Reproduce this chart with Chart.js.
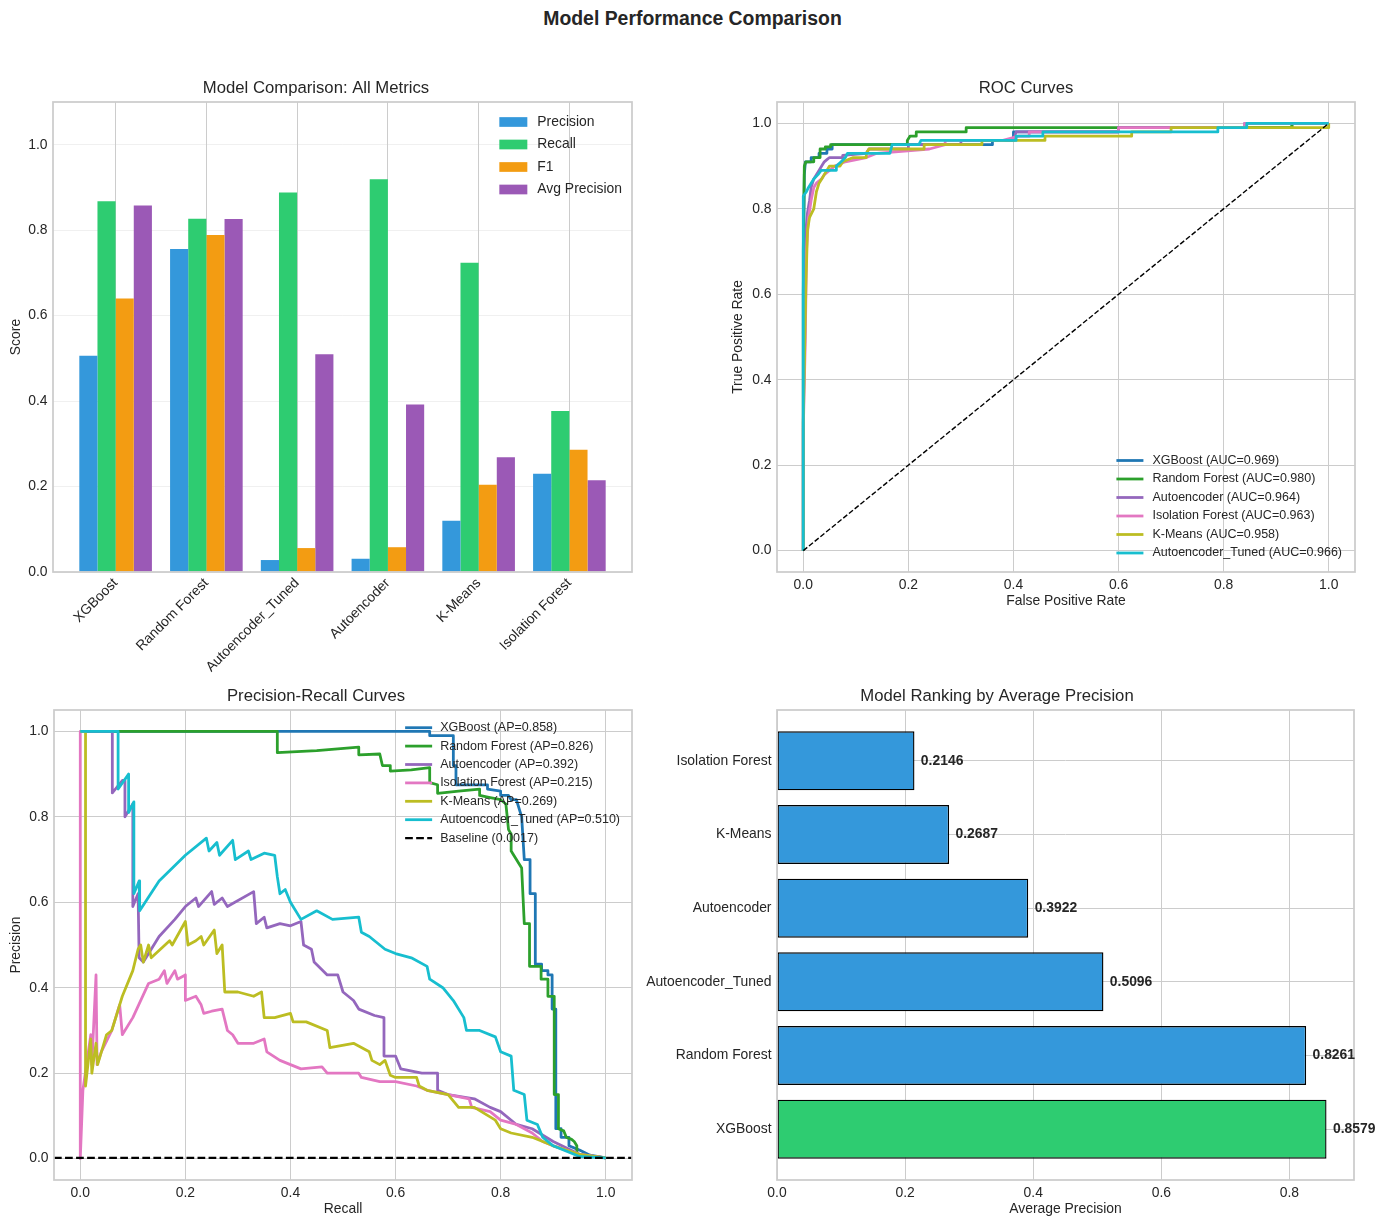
<!DOCTYPE html>
<html>
<head>
<meta charset="utf-8">
<title>Model Performance Comparison</title>
<script src="https://cdn.jsdelivr.net/npm/chart.js@4.4.1/dist/chart.umd.min.js"></script>
<style>
  body { margin: 0; background: #fff; }
  #page { position: relative; width: 1385px; height: 1229px; overflow: hidden; background: #fff; }
  #suptitle { position: absolute; left: 0; top: 7px; width: 1385px; text-align: center;
              font: bold 19.4px "Liberation Sans", Arial, sans-serif; color: #262626; line-height: 22px; }
  canvas { position: absolute; }
</style>
</head>
<body>
<div id="page">
  <div id="suptitle">Model Performance Comparison</div>
  <canvas id="metricsChart"></canvas>
  <canvas id="rocChart"></canvas>
  <canvas id="prChart"></canvas>
  <canvas id="rankChart"></canvas>
</div>
<script>
// ---- data ----
var modelNames = ['XGBoost', 'Random Forest', 'Autoencoder_Tuned', 'Autoencoder', 'K-Means', 'Isolation Forest'];
var precisionScores = [0.506, 0.756, 0.028, 0.031, 0.120, 0.230];
var recallScores = [0.868, 0.827, 0.888, 0.919, 0.724, 0.377];
var f1Scores = [0.640, 0.789, 0.056, 0.058, 0.204, 0.286];
var avgPrecisionScores = [0.8579, 0.8261, 0.5096, 0.3922, 0.2687, 0.2146];
var scoreTicks = [0, 0.2, 0.4, 0.6, 0.8, 1.0];
var rateTicks = [0, 0.2, 0.4, 0.6, 0.8, 1.0];
var apTicks = [0, 0.2, 0.4, 0.6, 0.8];

var curveModels = ['XGBoost', 'Random Forest', 'Autoencoder', 'Isolation Forest', 'K-Means', 'Autoencoder_Tuned'];
var rocAuc = [0.969, 0.980, 0.964, 0.963, 0.958, 0.966];
var prAp = [0.858, 0.826, 0.392, 0.215, 0.269, 0.510];
var baselineRate = 0.0017;

// ROC points [fpr, tpr]
var rocXGBoost = [[0,0],[0,0.6],[0.002,0.88],[0.004,0.91],[0.015,0.91],[0.015,0.92],[0.03,0.92],[0.03,0.93],[0.045,0.93],[0.045,0.94],[0.055,0.94],[0.055,0.95],[0.36,0.95],[0.36,0.96],[0.4,0.96],[0.4,0.98],[0.6,0.98],[0.6,0.99],[0.93,0.99],[0.93,1],[1,1]];
var rocRandomForest = [[0,0],[0,0.7],[0.002,0.9],[0.005,0.91],[0.02,0.91],[0.02,0.92],[0.032,0.92],[0.032,0.94],[0.042,0.94],[0.042,0.945],[0.052,0.945],[0.052,0.95],[0.198,0.95],[0.198,0.96],[0.203,0.97],[0.215,0.97],[0.215,0.98],[0.31,0.98],[0.31,0.99],[0.93,0.99],[0.93,1],[1,1]];
var rocAutoencoder = [[0,0],[0,0.3],[0.003,0.6],[0.005,0.75],[0.008,0.79],[0.012,0.82],[0.015,0.85],[0.02,0.87],[0.025,0.88],[0.03,0.89],[0.035,0.9],[0.04,0.91],[0.045,0.915],[0.05,0.92],[0.075,0.92],[0.075,0.925],[0.12,0.93],[0.125,0.94],[0.2,0.94],[0.2,0.95],[0.3,0.95],[0.3,0.96],[0.4,0.96],[0.405,0.98],[0.6,0.98],[0.6,0.99],[0.84,0.99],[0.84,1],[1,1]];
var rocIsolationForest = [[0,0],[0,0.28],[0.004,0.5],[0.006,0.7],[0.01,0.78],[0.015,0.82],[0.02,0.85],[0.025,0.86],[0.035,0.87],[0.04,0.88],[0.05,0.89],[0.06,0.9],[0.08,0.91],[0.12,0.92],[0.14,0.93],[0.24,0.94],[0.27,0.95],[0.27,0.96],[0.38,0.96],[0.41,0.97],[0.43,0.97],[0.43,0.98],[0.6,0.98],[0.6,0.99],[0.84,0.99],[0.84,1],[1,1]];
var rocKMeans = [[0,0],[0,0.3],[0.005,0.62],[0.008,0.75],[0.012,0.78],[0.02,0.8],[0.025,0.84],[0.03,0.86],[0.035,0.87],[0.04,0.88],[0.05,0.9],[0.07,0.9],[0.075,0.91],[0.095,0.92],[0.12,0.92],[0.12,0.93],[0.125,0.94],[0.23,0.94],[0.23,0.95],[0.34,0.95],[0.34,0.96],[0.37,0.96],[0.46,0.96],[0.46,0.97],[0.625,0.97],[0.625,0.98],[0.7,0.98],[0.7,0.99],[1,0.99],[1,1]];
var rocAutoencoderTuned = [[0,0],[0,0.83],[0.006,0.84],[0.01,0.85],[0.015,0.86],[0.02,0.87],[0.028,0.88],[0.034,0.89],[0.063,0.89],[0.063,0.9],[0.072,0.91],[0.08,0.92],[0.084,0.93],[0.165,0.93],[0.169,0.95],[0.22,0.95],[0.224,0.96],[0.405,0.96],[0.405,0.97],[0.456,0.97],[0.456,0.98],[0.789,0.98],[0.789,0.99],[0.844,0.99],[0.844,1],[1,1]];
var chanceLine = [[0,0],[1,1]];

// precision-recall points [recall, precision]
var prXGBoost = [[0,1],[0.665,1],[0.665,0.99],[0.71,0.99],[0.71,0.92],[0.715,0.92],[0.715,0.875],[0.775,0.875],[0.775,0.865],[0.80,0.86],[0.80,0.85],[0.815,0.85],[0.82,0.84],[0.83,0.84],[0.84,0.80],[0.845,0.70],[0.856,0.70],[0.856,0.62],[0.866,0.62],[0.866,0.455],[0.878,0.455],[0.878,0.44],[0.89,0.44],[0.89,0.43],[0.898,0.43],[0.898,0.35],[0.905,0.35],[0.905,0.07],[0.915,0.07],[0.915,0.05],[0.93,0.05],[0.93,0.03],[0.95,0.02],[0.97,0.008],[1,0.0017]];
var prRandomForest = [[0,1],[0.375,1],[0.375,0.95],[0.45,0.955],[0.53,0.963],[0.53,0.945],[0.57,0.947],[0.575,0.92],[0.59,0.92],[0.59,0.907],[0.63,0.91],[0.665,0.915],[0.665,0.88],[0.68,0.875],[0.68,0.855],[0.72,0.86],[0.76,0.865],[0.76,0.85],[0.78,0.845],[0.80,0.84],[0.81,0.83],[0.815,0.77],[0.82,0.76],[0.82,0.72],[0.83,0.70],[0.84,0.68],[0.845,0.55],[0.855,0.55],[0.855,0.45],[0.877,0.45],[0.877,0.42],[0.89,0.42],[0.89,0.38],[0.902,0.38],[0.902,0.15],[0.91,0.15],[0.91,0.07],[0.92,0.065],[0.925,0.05],[0.935,0.045],[0.94,0.04],[0.945,0.03],[0.945,0.01],[0.97,0.006],[1,0.0017]];
var prAutoencoder = [[0,1],[0.061,1],[0.061,0.856],[0.08,0.885],[0.085,0.885],[0.085,0.80],[0.1,0.83],[0.1,0.59],[0.11,0.62],[0.112,0.47],[0.12,0.46],[0.15,0.52],[0.18,0.56],[0.2,0.59],[0.22,0.61],[0.225,0.59],[0.25,0.625],[0.255,0.595],[0.27,0.61],[0.28,0.59],[0.33,0.625],[0.335,0.55],[0.35,0.565],[0.355,0.54],[0.38,0.55],[0.4,0.545],[0.42,0.555],[0.425,0.50],[0.44,0.49],[0.445,0.46],[0.47,0.43],[0.49,0.43],[0.5,0.39],[0.52,0.37],[0.53,0.35],[0.56,0.335],[0.578,0.33],[0.578,0.24],[0.6,0.24],[0.61,0.21],[0.65,0.2],[0.68,0.2],[0.68,0.16],[0.7,0.15],[0.75,0.14],[0.78,0.12],[0.8,0.11],[0.83,0.08],[0.86,0.07],[0.9,0.04],[0.95,0.01],[1,0.0017]];
var prIsolationForest = [[0,1],[0,0],[0.005,0.16],[0.02,0.29],[0.022,0.22],[0.03,0.43],[0.032,0.22],[0.04,0.25],[0.06,0.3],[0.075,0.36],[0.08,0.29],[0.1,0.33],[0.13,0.41],[0.15,0.42],[0.16,0.44],[0.165,0.41],[0.18,0.44],[0.185,0.42],[0.2,0.43],[0.2,0.37],[0.22,0.38],[0.23,0.36],[0.235,0.34],[0.25,0.345],[0.27,0.35],[0.28,0.3],[0.29,0.29],[0.3,0.27],[0.33,0.27],[0.35,0.28],[0.355,0.25],[0.38,0.23],[0.4,0.22],[0.42,0.21],[0.46,0.215],[0.47,0.2],[0.5,0.2],[0.53,0.2],[0.535,0.19],[0.57,0.18],[0.6,0.18],[0.64,0.17],[0.66,0.16],[0.7,0.15],[0.74,0.14],[0.745,0.12],[0.78,0.11],[0.8,0.09],[0.83,0.08],[0.86,0.06],[0.88,0.04],[0.9,0.03],[0.95,0.01],[1,0.0017]];
var prKMeans = [[0,1],[0.01,1],[0.01,0.17],[0.02,0.28],[0.022,0.2],[0.03,0.27],[0.033,0.22],[0.05,0.29],[0.06,0.3],[0.08,0.38],[0.1,0.44],[0.11,0.49],[0.115,0.5],[0.12,0.46],[0.13,0.5],[0.135,0.47],[0.17,0.51],[0.175,0.5],[0.2,0.555],[0.205,0.5],[0.22,0.51],[0.23,0.52],[0.235,0.5],[0.255,0.535],[0.26,0.48],[0.27,0.5],[0.275,0.39],[0.3,0.39],[0.33,0.38],[0.345,0.39],[0.35,0.33],[0.37,0.33],[0.4,0.34],[0.405,0.32],[0.43,0.32],[0.47,0.3],[0.475,0.26],[0.52,0.27],[0.55,0.25],[0.555,0.23],[0.57,0.22],[0.58,0.23],[0.59,0.195],[0.6,0.19],[0.64,0.19],[0.645,0.17],[0.66,0.16],[0.7,0.15],[0.72,0.12],[0.75,0.12],[0.79,0.09],[0.8,0.07],[0.82,0.06],[0.86,0.05],[0.9,0.03],[0.95,0.01],[1,0.0017]];
var prAutoencoderTuned = [[0,1],[0.072,1],[0.072,0.865],[0.092,0.9],[0.092,0.81],[0.102,0.835],[0.102,0.62],[0.112,0.65],[0.113,0.58],[0.15,0.65],[0.2,0.71],[0.24,0.75],[0.245,0.72],[0.26,0.74],[0.265,0.71],[0.29,0.745],[0.295,0.70],[0.32,0.72],[0.325,0.70],[0.35,0.715],[0.37,0.71],[0.375,0.66],[0.38,0.62],[0.39,0.63],[0.4,0.60],[0.42,0.56],[0.45,0.58],[0.48,0.56],[0.53,0.565],[0.535,0.53],[0.55,0.52],[0.58,0.49],[0.6,0.48],[0.63,0.47],[0.66,0.45],[0.665,0.42],[0.69,0.40],[0.71,0.37],[0.73,0.33],[0.735,0.30],[0.76,0.30],[0.79,0.285],[0.8,0.25],[0.82,0.24],[0.825,0.16],[0.845,0.15],[0.85,0.09],[0.87,0.08],[0.88,0.05],[0.9,0.03],[0.95,0.005],[1,0.0017]];

var rankNames = ['XGBoost', 'Random Forest', 'Autoencoder_Tuned', 'Autoencoder', 'K-Means', 'Isolation Forest'];
var rankValues = [0.8579, 0.8261, 0.5096, 0.3922, 0.2687, 0.2146];

// ---- style ----
var FONT = '"Liberation Sans", Arial, sans-serif';
var TEXT = '#262626';
var GRID = '#cccccc';
var PT = 100 / 72; // matplotlib points -> px at dpi 100
var curveColors = ['#1f77b4', '#2ca02c', '#9467bd', '#e377c2', '#bcbd22', '#17becf'];

Chart.defaults.font.family = FONT;
Chart.defaults.font.size = 13.9;
Chart.defaults.color = TEXT;
Chart.defaults.animation = false;

// full box around the plot area, like matplotlib spines
var axesFrame = {
    id: 'axesFrame',
    afterDatasetsDraw: function(chart) {
        var a = chart.chartArea, ctx = chart.ctx;
        ctx.save();
        ctx.strokeStyle = GRID;
        ctx.lineWidth = 1.25 * PT;
        ctx.strokeRect(a.left, a.top, a.right - a.left, a.bottom - a.top);
        ctx.restore();
    }
};

// legend drawn inside the plot area (no frame)
var innerLegend = {
    id: 'innerLegend',
    afterDatasetsDraw: function(chart, args, opts) {
        var a = chart.chartArea, ctx = chart.ctx;
        var items = chart.data.datasets.filter(function(d) { return d.label; });
        ctx.save();
        ctx.font = opts.fontSize + 'px ' + FONT;
        var textW = 0;
        items.forEach(function(d) { textW = Math.max(textW, ctx.measureText(d.label).width); });
        var left = a.right - opts.marginRight - textW - opts.handleLength - opts.handlePad;
        var first = opts.anchor === 'top'
            ? a.top + opts.firstRow
            : a.bottom - opts.firstRow - (items.length - 1) * opts.rowHeight;
        items.forEach(function(d, i) {
            var y = first + i * opts.rowHeight;
            if (opts.marker === 'box') {
                ctx.fillStyle = d.backgroundColor;
                ctx.fillRect(left, y - opts.boxHeight / 2, opts.handleLength, opts.boxHeight);
            } else {
                ctx.strokeStyle = d.borderColor;
                ctx.lineWidth = d.borderWidth;
                ctx.setLineDash(d.borderDash || []);
                ctx.beginPath();
                ctx.moveTo(left, y);
                ctx.lineTo(left + opts.handleLength, y);
                ctx.stroke();
                ctx.setLineDash([]);
            }
            ctx.fillStyle = TEXT;
            ctx.textAlign = 'left';
            ctx.textBaseline = 'middle';
            ctx.fillText(d.label, left + opts.handleLength + opts.handlePad, y);
        });
        ctx.restore();
    }
};

// value text to the right of each horizontal bar
var barValueLabels = {
    id: 'barValueLabels',
    afterDatasetsDraw: function(chart, args, opts) {
        var meta = chart.getDatasetMeta(0), ctx = chart.ctx, xs = chart.scales.x;
        var points = chart.data.datasets[0].data;
        ctx.save();
        ctx.font = 'bold 13.9px ' + FONT;
        ctx.fillStyle = TEXT;
        ctx.textAlign = 'left';
        ctx.textBaseline = 'middle';
        meta.data.forEach(function(bar, i) {
            var v = points[i].x;
            ctx.fillText(v.toFixed(4), xs.getPixelForValue(v + opts.offset), bar.y);
        });
        ctx.restore();
    }
};

function placeCanvas(id, box) {
    var c = document.getElementById(id);
    c.width = box.w;
    c.height = box.h;
    c.style.left = box.x + 'px';
    c.style.top = box.y + 'px';
    c.style.width = box.w + 'px';
    c.style.height = box.h + 'px';
    return c;
}

function fixedTicks(values) {
    return function(scale) {
        scale.ticks = values.map(function(v) { return {value: v}; });
    };
}

function toPoints(pairs) {
    return pairs.map(function(p) { return {x: p[0], y: p[1]}; });
}

function plotTitle(text) {
    return {
        display: true, text: text, color: TEXT,
        font: {size: 16.7, weight: 'normal'},
        padding: {top: 17.96, bottom: 4}
    };
}

function fmt1(v) { return Number(v).toFixed(1); }

// ---- 1: grouped bars ----
var metricsBox = {x: 0, y: 60, w: 660, h: 630};
new Chart(placeCanvas('metricsChart', metricsBox), {
    type: 'bar',
    data: {
        datasets: [
            {label: 'Precision', data: precisionScores, backgroundColor: '#3498db'},
            {label: 'Recall', data: recallScores, backgroundColor: '#2ecc71'},
            {label: 'F1', data: f1Scores, backgroundColor: '#f39c12'},
            {label: 'Avg Precision', data: avgPrecisionScores, backgroundColor: '#9b59b6'}
        ].map(function(ds) {
            ds.data = ds.data.map(function(v, i) { return {x: i, y: v}; });
            ds.borderWidth = 0;
            ds.categoryPercentage = 0.8;
            ds.barPercentage = 1.0;
            return ds;
        })
    },
    options: {
        responsive: false,
        layout: {padding: {left: 0, top: 0, right: 28, bottom: 0}},
        plugins: {
            legend: {display: false},
            tooltip: {enabled: false},
            title: plotTitle('Model Comparison: All Metrics'),
            innerLegend: {anchor: 'top', marker: 'box', fontSize: 13.9, rowHeight: 22.5, firstRow: 20,
                          marginRight: 10, handleLength: 28, handlePad: 10, boxHeight: 9.7}
        },
        scales: {
            x: {
                type: 'linear', min: -0.69, max: 5.69, offset: false,
                afterBuildTicks: fixedTicks(modelNames.map(function(_, i) { return i; })),
                ticks: {
                    autoSkip: false, minRotation: 45, maxRotation: 45, padding: 3,
                    callback: function(v) { return modelNames[v]; }
                },
                grid: {color: GRID, lineWidth: 1, drawTicks: false, offset: false},
                border: {display: false},
                afterFit: function(s) { s.height = 118; }
            },
            y: {
                min: 0, max: 1.1,
                afterBuildTicks: fixedTicks(scoreTicks),
                ticks: {padding: 5.5, callback: fmt1},
                grid: {color: 'rgba(204,204,204,0.3)', lineWidth: 1, drawTicks: false},
                border: {display: false},
                title: {display: true, text: 'Score', padding: {top: 7.7, bottom: 0}},
                afterFit: function(s) { s.width = 53; }
            }
        }
    },
    plugins: [axesFrame, innerLegend]
});

// ---- 2: ROC curves ----
var rocSeries = [rocXGBoost, rocRandomForest, rocAutoencoder, rocIsolationForest, rocKMeans, rocAutoencoderTuned];
var rocDatasets = rocSeries.map(function(pts, i) {
    return {
        label: curveModels[i] + ' (AUC=' + rocAuc[i].toFixed(3) + ')',
        data: toPoints(pts), borderColor: curveColors[i], backgroundColor: curveColors[i],
        borderWidth: 2 * PT, order: rocSeries.length + 1 - i
    };
});
rocDatasets.push({data: toPoints(chanceLine), borderColor: '#000000', borderWidth: 1 * PT,
                  borderDash: [3.7 * PT, 1.6 * PT], order: 0});

var rocBox = {x: 697, y: 60, w: 683, h: 562};
new Chart(placeCanvas('rocChart', rocBox), {
    type: 'line',
    data: {datasets: rocDatasets},
    options: {
        responsive: false,
        layout: {padding: {left: 0, top: 0, right: 25, bottom: 0}},
        elements: {point: {radius: 0}, line: {tension: 0, fill: false, borderJoinStyle: 'round'}},
        plugins: {
            legend: {display: false},
            tooltip: {enabled: false},
            title: plotTitle('ROC Curves'),
            innerLegend: {anchor: 'bottom', marker: 'line', fontSize: 12.5, rowHeight: 18.5, firstRow: 19,
                          marginRight: 13, handleLength: 27, handlePad: 9}
        },
        scales: {
            x: {
                type: 'linear', min: -0.05, max: 1.05,
                afterBuildTicks: fixedTicks(rateTicks),
                ticks: {padding: 5, callback: fmt1},
                grid: {color: GRID, lineWidth: 1, drawTicks: false},
                border: {display: false},
                title: {display: true, text: 'False Positive Rate', padding: {top: 0, bottom: 12.7}},
                afterFit: function(s) { s.height = 50; }
            },
            y: {
                type: 'linear', min: -0.05, max: 1.05,
                afterBuildTicks: fixedTicks(rateTicks),
                ticks: {padding: 5.5, callback: fmt1},
                grid: {color: GRID, lineWidth: 1, drawTicks: false},
                border: {display: false},
                title: {display: true, text: 'True Positive Rate', padding: {top: 32.7, bottom: 0}},
                afterFit: function(s) { s.width = 80; }
            }
        }
    },
    plugins: [axesFrame, innerLegend]
});

// ---- 3: precision-recall curves ----
var prSeries = [prXGBoost, prRandomForest, prAutoencoder, prIsolationForest, prKMeans, prAutoencoderTuned];
var prXMin = -0.05, prXMax = 1.05;
var prDatasets = prSeries.map(function(pts, i) {
    return {
        label: curveModels[i] + ' (AP=' + prAp[i].toFixed(3) + ')',
        data: toPoints(pts), borderColor: curveColors[i], backgroundColor: curveColors[i],
        borderWidth: 2 * PT, order: prSeries.length + 1 - i
    };
});
prDatasets.push({label: 'Baseline (' + baselineRate.toFixed(4) + ')',
                 data: toPoints([[prXMin, baselineRate], [prXMax, baselineRate]]),
                 borderColor: '#000000', borderWidth: 1.5 * PT, borderDash: [3.7 * 1.5 * PT, 1.6 * 1.5 * PT], order: 0});

var prBox = {x: 0, y: 668, w: 660, h: 561};
new Chart(placeCanvas('prChart', prBox), {
    type: 'line',
    data: {datasets: prDatasets},
    options: {
        responsive: false,
        layout: {padding: {left: 0, top: 0, right: 28, bottom: 0}},
        elements: {point: {radius: 0}, line: {tension: 0, fill: false, borderJoinStyle: 'round'}},
        plugins: {
            legend: {display: false},
            tooltip: {enabled: false},
            title: plotTitle('Precision-Recall Curves'),
            innerLegend: {anchor: 'top', marker: 'line', fontSize: 12.5, rowHeight: 18.4, firstRow: 17.7,
                          marginRight: 12, handleLength: 27, handlePad: 8}
        },
        scales: {
            x: {
                type: 'linear', min: prXMin, max: prXMax,
                afterBuildTicks: fixedTicks(rateTicks),
                ticks: {padding: 5, callback: fmt1},
                grid: {color: GRID, lineWidth: 1, drawTicks: false},
                border: {display: false},
                title: {display: true, text: 'Recall', padding: {top: 0, bottom: 11.7}},
                afterFit: function(s) { s.height = 49; }
            },
            y: {
                type: 'linear', min: -0.05, max: 1.05,
                afterBuildTicks: fixedTicks(rateTicks),
                ticks: {padding: 5.5, callback: fmt1},
                grid: {color: GRID, lineWidth: 1, drawTicks: false},
                border: {display: false},
                title: {display: true, text: 'Precision', padding: {top: 7.7, bottom: 0}},
                afterFit: function(s) { s.width = 54; }
            }
        }
    },
    plugins: [axesFrame, innerLegend]
});

// ---- 4: ranking by average precision ----
var rankColors = rankValues.map(function(_, i) { return i === 0 ? '#2ecc71' : '#3498db'; });
var rankBox = {x: 640, y: 668, w: 745, h: 561};
new Chart(placeCanvas('rankChart', rankBox), {
    type: 'bar',
    data: {
        datasets: [{
            data: rankValues.map(function(v, i) { return {x: v, y: i}; }),
            backgroundColor: rankColors, borderColor: '#000000', borderWidth: 1 * PT,
            borderSkipped: false, categoryPercentage: 0.8, barPercentage: 1.0
        }]
    },
    options: {
        responsive: false,
        indexAxis: 'y',
        layout: {padding: {left: 0, top: 0, right: 31, bottom: 0}},
        plugins: {
            legend: {display: false},
            tooltip: {enabled: false},
            title: plotTitle('Model Ranking by Average Precision'),
            barValueLabels: {offset: 0.01}
        },
        scales: {
            x: {
                type: 'linear', min: 0, max: Math.max.apply(null, rankValues) * 1.05,
                afterBuildTicks: fixedTicks(apTicks),
                ticks: {padding: 5, callback: fmt1},
                grid: {color: GRID, lineWidth: 1, drawTicks: false},
                border: {display: false},
                title: {display: true, text: 'Average Precision', padding: {top: 0, bottom: 11.7}},
                afterFit: function(s) { s.height = 49; }
            },
            y: {
                type: 'linear', min: -0.69, max: 5.69, offset: false,
                afterBuildTicks: fixedTicks(rankNames.map(function(_, i) { return i; })),
                ticks: {padding: 5.5, autoSkip: false, callback: function(v) { return rankNames[v]; }},
                grid: {color: GRID, lineWidth: 1, drawTicks: false, offset: false},
                border: {display: false},
                afterFit: function(s) { s.width = 137; }
            }
        }
    },
    plugins: [axesFrame, barValueLabels]
});
</script>
</body>
</html>
